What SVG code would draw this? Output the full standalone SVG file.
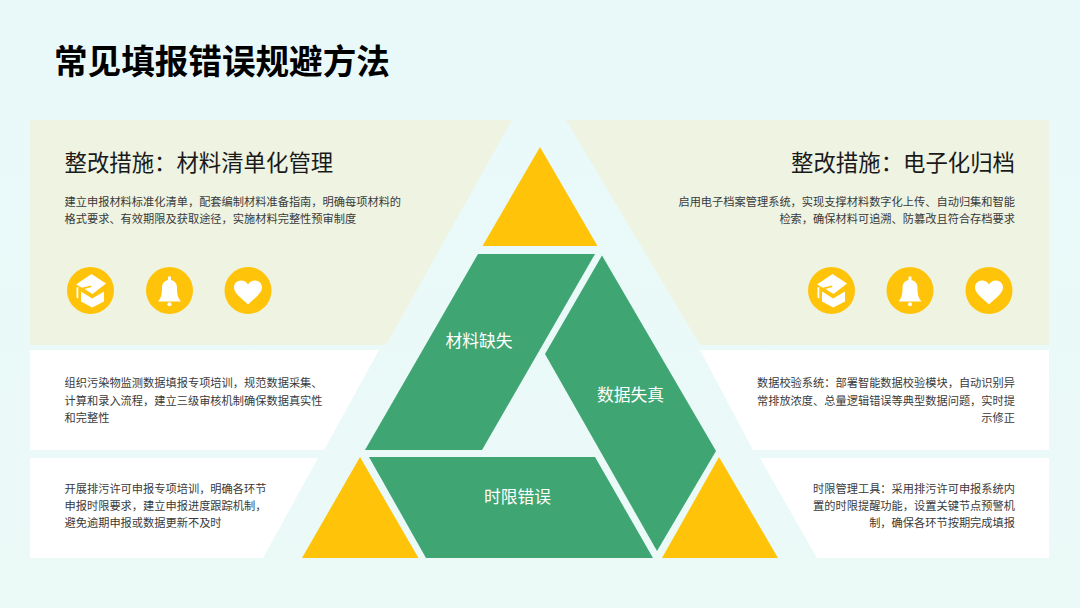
<svg xmlns="http://www.w3.org/2000/svg" xmlns:xlink="http://www.w3.org/1999/xlink" width="1080" height="608" viewBox="0 0 1080 608">
<style>
text{font-family:"Noto Sans CJK SC","Noto Sans",sans-serif}
.title{font-size:33.6px;font-weight:700;fill:#000}
.sub{font-size:22.4px;fill:#1a1a1a}
.body{font-size:11.22px;fill:#3a3a3a}
.end{text-anchor:end}
.label{font-size:16.8px;fill:#fff;text-anchor:middle}
.panel{fill:#EEF3E2}
.card{fill:#fff}
.green{fill:#3FA572}
.yellow{fill:#FFC409}
.ic{fill:#fff}
</style>
<defs>
<linearGradient id="bg" x1="0" y1="0" x2="0" y2="1"><stop offset="0" stop-color="#E9F9FA"/><stop offset="1" stop-color="#EBFAF7"/></linearGradient>
<g id="cap"><circle r="23.5" class="yellow"/><path class="ic" d="M1,-16.500 L15.500,-7 L2,3.500 L-6,-1.500 L1,-3.500 L0.500,-5 L-8.500,-2.800 L-14.500,-6Z"/><path class="ic" d="M-14,-3 L-12.200,-3.500 L-12.200,8 L-14,7Z"/><path class="ic" d="M-9.500,1 L1.700,8 L13.500,1 L13.500,11 L1.700,17 L-9.500,11Z"/></g>
<g id="bell"><circle r="23.5" class="yellow"/><path class="ic" d="M-1.500,-14 h3 v4.500 h-3Z"/><path class="ic" d="M-11.500,11 C-8,7 -7.500,3 -7.500,-3 C-7.500,-8 -4,-10.500 0,-10.500 C4,-10.500 7.500,-8 7.500,-3 C7.500,3 8,7 11.500,11Z"/><circle class="ic" cy="13.800" r="2"/></g>
<g id="heart"><circle r="23.500" class="yellow"/><path class="ic" d="M0,14 C-6,8 -14,3 -14,-3 C-14,-7 -11,-10 -7,-10 C-4,-10 -1.500,-8.500 0,-6 C1.500,-8.500 4,-10 7,-10 C11,-10 14,-7 14,-3 C14,3 6,8 0,14Z"/></g>
</defs>
<rect width="1080" height="608" fill="url(#bg)"/>
<text class="title" x="54" y="74">常见填报错误规避方法</text>

<g id="panel-left">
<polygon class="panel" points="30,120 512,120 386,345 30,345"/>
<text class="sub" x="64.500" y="171">整改措施：材料清单化管理</text>
<text class="body" x="64.500" y="205.500">建立申报材料标准化清单，配套编制材料准备指南，明确每项材料的</text>
<text class="body" x="64.500" y="223">格式要求、有效期限及获取途径，实施材料完整性预审制度</text>
<use xlink:href="#cap" href="#cap" x="90.500" y="290.500"/>
<use xlink:href="#bell" href="#bell" x="169.500" y="290.500"/>
<use xlink:href="#heart" href="#heart" x="248" y="290.500"/>
</g>
<g id="card-left-1">
<polygon class="card" points="30,350 379,350 324,450 30,450"/>
<text class="body" x="64.500" y="387">组织污染物监测数据填报专项培训，规范数据采集、</text>
<text class="body" x="64.500" y="404.500">计算和录入流程，建立三级审核机制确保数据真实性</text>
<text class="body" x="64.500" y="421.500">和完整性</text>
</g>
<g id="card-left-2">
<polygon class="card" points="30,458 318,458 263,558 30,558"/>
<text class="body" x="64.500" y="492.500">开展排污许可申报专项培训，明确各环节</text>
<text class="body" x="64.500" y="510">申报时限要求，建立申报进度跟踪机制，</text>
<text class="body" x="64.500" y="527">避免逾期申报或数据更新不及时</text>
</g>

<g id="panel-right">
<polygon class="panel" points="566,120 1049,120 1049,345 700,345"/>
<text class="sub end" x="1015" y="171">整改措施：电子化归档</text>
<text class="body end" x="1015" y="205.500">启用电子档案管理系统，实现支撑材料数字化上传、自动归集和智能</text>
<text class="body end" x="1015" y="223">检索，确保材料可追溯、防篡改且符合存档要求</text>
<use xlink:href="#cap" href="#cap" x="831.500" y="290.500"/>
<use xlink:href="#bell" href="#bell" x="910" y="290.500"/>
<use xlink:href="#heart" href="#heart" x="989" y="290.500"/>
</g>
<g id="card-right-1">
<polygon class="card" points="700,350 1049,350 1049,450 753,450"/>
<text class="body end" x="1015" y="387">数据校验系统：部署智能数据校验模块，自动识别异</text>
<text class="body end" x="1015" y="404.500">常排放浓度、总量逻辑错误等典型数据问题，实时提</text>
<text class="body end" x="1015" y="421.500">示修正</text>
</g>
<g id="card-right-2">
<polygon class="card" points="760,458 1049,458 1049,558 817,558"/>
<text class="body end" x="1015" y="492.500">时限管理工具：采用排污许可申报系统内</text>
<text class="body end" x="1015" y="510">置的时限提醒功能，设置关键节点预警机</text>
<text class="body end" x="1015" y="527">制，确保各环节按期完成填报</text>
</g>

<g id="tri-top"><polygon class="yellow" points="540,147 597.500,246 482.500,246"/></g>
<g id="tri-left"><polygon class="yellow" points="360,457 418.500,558 302,558"/></g>
<g id="tri-right"><polygon class="yellow" points="719,457 778,558 662,558"/></g>
<g id="node-material">
<polygon class="green" points="478,254 595,254 482,450 365,450"/>
<text class="label" x="479" y="347">材料缺失</text>
</g>
<g id="node-data">
<polygon class="green" points="602,255.500 716,451 657,551 545,354"/>
<text class="label" x="630.500" y="400.500">数据失真</text>
</g>
<g id="node-time">
<polygon class="green" points="369,457 595,457 653,558 426,558"/>
<text class="label" x="517.500" y="503">时限错误</text>
</g>
</svg>
